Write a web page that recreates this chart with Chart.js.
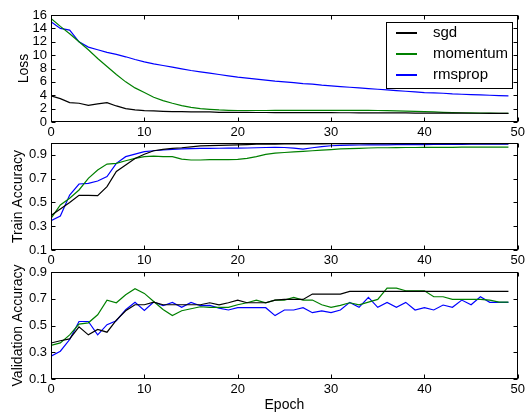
<!DOCTYPE html>
<html>
<head>
<meta charset="utf-8">
<script src="https://cdn.jsdelivr.net/npm/chart.js@4.4.0/dist/chart.umd.min.js"></script>
<style>
  body { margin: 0; background: #fff; }
  #wrap { position: relative; width: 528px; height: 412px; }
  canvas { position: absolute; left: 0; top: 0; }
</style>
</head>
<body>
<div id="wrap">
  <canvas id="loss" width="528" height="412"></canvas>
  <canvas id="train" width="528" height="412"></canvas>
  <canvas id="val" width="528" height="412"></canvas>
</div>
<script>
const epochs = [0,1,2,3,4,5,6,7,8,9,10,11,12,13,14,15,16,17,18,19,20,21,22,23,24,25,26,27,28,29,
  30,31,32,33,34,35,36,37,38,39,40,41,42,43,44,45,46,47,48,49];
const seriesNames = ['sgd', 'momentum', 'rmsprop'];
const seriesColors = ['#000000', '#008000', '#0000ff'];

const xTicks = [0, 10, 20, 30, 40, 50];
const lossTicks = [0, 2, 4, 6, 8, 10, 12, 14, 16];
const accTicks = [0.1, 0.3, 0.5, 0.7, 0.9];
const accTickLabels = ['0.1', '0.3', '0.5', '0.7', '0.9'];

const sgdLoss = [3.9,3.5,2.9,2.8,2.5,2.7,2.9,2.4,2.0,1.8,1.7,1.65,1.6,1.55,1.55,1.5,1.5,1.5,1.45,1.45,
  1.45,1.45,1.42,1.42,1.41,1.41,1.4,1.4,1.4,1.39,1.39,1.38,1.38,1.37,1.37,1.36,1.36,1.35,1.35,1.34,
  1.34,1.33,1.33,1.32,1.32,1.31,1.31,1.3,1.3,1.3];
const momentumLoss = [15.5,14.3,13.2,12.0,10.8,9.5,8.3,7.1,6.0,5.1,4.4,3.7,3.2,2.8,2.45,2.2,2.0,1.9,1.8,1.75,
  1.72,1.72,1.72,1.72,1.73,1.73,1.74,1.74,1.75,1.75,1.75,1.75,1.75,1.74,1.73,1.72,1.7,1.67,1.63,1.59,
  1.55,1.5,1.45,1.41,1.38,1.35,1.33,1.32,1.31,1.3];
const rmspropLoss = [15.0,14.0,13.75,12.0,11.2,10.8,10.4,10.1,9.75,9.35,9.0,8.7,8.45,8.2,7.95,7.7,7.5,7.3,7.1,6.9,
  6.7,6.55,6.4,6.25,6.1,6.0,5.9,5.75,5.65,5.5,5.4,5.3,5.2,5.1,5.0,4.9,4.8,4.7,4.6,4.5,
  4.4,4.35,4.3,4.2,4.15,4.1,4.05,4.0,3.95,3.9];

const sgdTrain = [0.39,0.445,0.5,0.56,0.56,0.557,0.633,0.76,0.815,0.87,0.905,0.935,0.947,0.955,0.96,0.968,0.975,0.978,0.98,0.982,
  0.985,0.987,0.99,0.99,0.99,0.992,0.992,0.993,0.993,0.993,0.994,0.994,0.994,0.994,0.995,0.995,0.995,0.995,0.995,0.995,
  0.995,0.995,0.995,0.995,0.995,0.995,0.995,0.995,0.995,0.995];
const momentumTrain = [0.366,0.479,0.535,0.605,0.703,0.773,0.823,0.829,0.851,0.871,0.885,0.89,0.885,0.885,0.865,0.857,0.857,0.86,0.86,0.86,
  0.862,0.87,0.885,0.905,0.915,0.92,0.925,0.93,0.935,0.94,0.945,0.95,0.952,0.955,0.958,0.96,0.96,0.961,0.962,0.962,
  0.963,0.963,0.964,0.964,0.965,0.966,0.966,0.966,0.966,0.965];
const rmspropTrain = [0.347,0.386,0.562,0.655,0.66,0.68,0.717,0.829,0.885,0.907,0.927,0.935,0.941,0.947,0.95,0.952,0.955,0.955,0.956,0.957,
  0.957,0.958,0.96,0.962,0.963,0.962,0.957,0.948,0.96,0.97,0.977,0.98,0.982,0.983,0.984,0.985,0.985,0.986,0.986,0.987,
  0.987,0.988,0.988,0.988,0.989,0.99,0.99,0.99,0.99,0.99];

const sgdVal = [0.369,0.386,0.4,0.49,0.43,0.47,0.45,0.54,0.61,0.655,0.655,0.675,0.655,0.655,0.655,0.655,0.655,0.67,0.655,0.67,
  0.69,0.67,0.67,0.67,0.69,0.695,0.695,0.695,0.735,0.735,0.735,0.735,0.755,0.755,0.755,0.755,0.755,0.755,0.755,0.755,
  0.755,0.755,0.755,0.755,0.755,0.755,0.755,0.755,0.755,0.755];
const momentumVal = [0.352,0.37,0.43,0.51,0.52,0.58,0.69,0.67,0.73,0.775,0.74,0.68,0.62,0.575,0.61,0.625,0.64,0.635,0.635,0.635,
  0.655,0.67,0.69,0.67,0.69,0.69,0.71,0.69,0.69,0.655,0.635,0.65,0.67,0.655,0.675,0.695,0.78,0.78,0.76,0.76,
  0.76,0.715,0.715,0.695,0.695,0.695,0.695,0.69,0.675,0.675];
const rmspropVal = [0.27,0.308,0.395,0.53,0.53,0.43,0.506,0.536,0.618,0.673,0.613,0.676,0.648,0.673,0.636,0.673,0.648,0.65,0.63,0.616,
  0.633,0.633,0.633,0.633,0.574,0.616,0.616,0.633,0.596,0.61,0.596,0.616,0.673,0.636,0.71,0.636,0.673,0.636,0.673,0.616,
  0.633,0.616,0.653,0.636,0.69,0.655,0.715,0.673,0.673,0.673];

Chart.defaults.font.family = '"Liberation Sans", Arial, sans-serif';
Chart.defaults.font.size = 13;
Chart.defaults.color = '#000';

// box round the plot + matplotlib style inward ticks
const framePlugin = {
  id: 'frame',
  afterDatasetsDraw(chart) {
    const { ctx, chartArea: a, scales } = chart;
    const l = Math.round(a.left) + 0.5, r = Math.round(a.right) - 0.5;
    const t = Math.round(a.top) + 0.5, b = Math.round(a.bottom) - 0.5;
    ctx.save();
    ctx.strokeStyle = '#000';
    ctx.lineWidth = 1;
    ctx.strokeRect(l, t, r - l, b - t);
    ctx.beginPath();
    scales.x.ticks.forEach(tk => {
      const px = Math.round(scales.x.getPixelForValue(tk.value)) + 0.5;
      ctx.moveTo(px, b); ctx.lineTo(px, b - 4);
      ctx.moveTo(px, t); ctx.lineTo(px, t + 4);
    });
    scales.y.ticks.forEach(tk => {
      const py = Math.round(scales.y.getPixelForValue(tk.value)) + 0.5;
      ctx.moveTo(l, py); ctx.lineTo(l + 4, py);
      ctx.moveTo(r, py); ctx.lineTo(r - 4, py);
    });
    ctx.stroke();
    ctx.restore();
  }
};

const legendPlugin = {
  id: 'boxLegend',
  afterDraw(chart) {
    if (chart.canvas.id !== 'loss') return;
    const ctx = chart.ctx;
    ctx.save();
    ctx.fillStyle = '#fff';
    ctx.fillRect(386, 22, 126, 66);
    ctx.strokeStyle = '#000';
    ctx.lineWidth = 1;
    ctx.strokeRect(386.5, 22.5, 126, 66);
    ctx.font = '15px "Liberation Sans", Arial, sans-serif';
    ctx.textBaseline = 'middle';
    for (let i = 0; i < seriesNames.length; i++) {
      const y = 33 + i * 21;
      ctx.fillStyle = seriesColors[i];
      ctx.fillRect(396, y - 1, 21, 2);
      ctx.fillStyle = '#000';
      ctx.fillText(seriesNames[i], 433, y);
    }
    ctx.restore();
  }
};

function makeChart(id, values, yMin, yMax, yTicks, yLabels, yTitle, padTop, padBottom, titlePad, last) {
  return new Chart(document.getElementById(id), {
    type: 'line',
    data: {
      labels: epochs,
      datasets: values.map((v, i) => ({
        label: seriesNames[i],
        data: v,
        borderColor: seriesColors[i],
        borderWidth: 1.2,
        pointRadius: 0,
        tension: 0,
        fill: false
      }))
    },
    options: {
      responsive: false,
      animation: false,
      events: [],
      layout: { padding: { top: padTop, bottom: padBottom, left: 0, right: 9 } },
      plugins: { legend: { display: false }, tooltip: { enabled: false } },
      scales: {
        x: {
          type: 'linear', min: 0, max: 50,
          grid: { display: false, drawTicks: false }, border: { display: false },
          afterBuildTicks: s => { s.ticks = xTicks.map(v => ({ value: v })); },
          afterFit: s => { s.height = last ? 33 : 18; },
          ticks: { padding: 3, maxRotation: 0, autoSkip: false, callback: v => String(v) },
          title: { display: last, text: 'Epoch', font: { size: 14 }, padding: { top: 0, bottom: -2 } }
        },
        y: {
          min: yMin, max: yMax,
          grid: { display: false, drawTicks: false }, border: { display: false },
          afterBuildTicks: s => { s.ticks = yTicks.map(v => ({ value: v })); },
          afterFit: s => { s.width = 51; },
          ticks: { padding: 4, autoSkip: false, callback: (v, i) => yLabels[i] },
          title: { display: true, text: yTitle, font: { size: 14 }, padding: { top: titlePad, bottom: 0 } }
        }
      }
    },
    plugins: [framePlugin, legendPlugin]
  });
}

makeChart('loss', [sgdLoss, momentumLoss, rmspropLoss], 0, 16, lossTicks, lossTicks.map(String),
  'Loss', 15, 272, 16, false);
makeChart('train', [sgdTrain, momentumTrain, rmspropTrain], 0.1, 1.0, accTicks, accTickLabels,
  'Train Accuracy', 143, 144, 10, false);
makeChart('val', [sgdVal, momentumVal, rmspropVal], 0.1, 0.9, accTicks, accTickLabels,
  'Validation Accuracy', 272, 0, 10, true);
</script>
</body>
</html>
